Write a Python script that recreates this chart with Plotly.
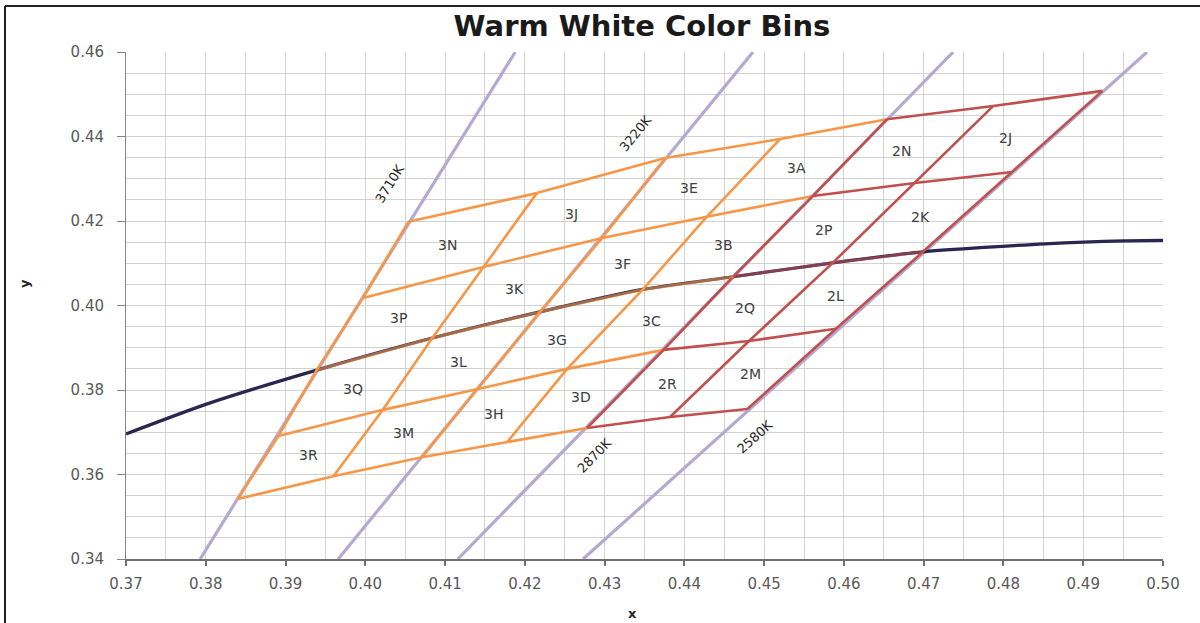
import math
import plotly.graph_objects as go

# Bin corner chromaticities (CIE 1931 x, y), one list per horizontal bin
# boundary (top to bottom); each list runs along the column lines L0..L6.
top_x = [0.4054, 0.4215, 0.4376, 0.4520, 0.4654, 0.4787, 0.4924]
top_y = [0.4198, 0.4266, 0.4349, 0.4394, 0.4441, 0.4472, 0.4508]
upper_x = [0.3997, 0.4148, 0.4297, 0.4428, 0.4561, 0.4689, 0.4811]
upper_y = [0.4018, 0.4091, 0.4160, 0.4210, 0.4259, 0.4290, 0.4316]
mid_x = [0.3939, 0.4084, 0.4219, 0.4348, 0.4461, 0.4586, 0.4699]
mid_y = [0.3847, 0.3923, 0.3985, 0.4038, 0.4068, 0.4101, 0.4127]
lower_x = [0.3891, 0.4022, 0.4140, 0.4253, 0.4374, 0.4481, 0.4590]
lower_y = [0.3691, 0.3753, 0.3802, 0.3850, 0.3895, 0.3916, 0.3945]
bottom_x = [0.3840, 0.3960, 0.4071, 0.4178, 0.4278, 0.4382, 0.4479]
bottom_y = [0.3542, 0.3596, 0.3641, 0.3677, 0.3710, 0.3736, 0.3755]

# Bin codes, rows top to bottom, columns left to right
bin_names = [
    ["3N", "3J", "3E", "3A", "2N", "2J"],
    ["3P", "3K", "3F", "3B", "2P", "2K"],
    ["3Q", "3L", "3G", "3C", "2Q", "2L"],
    ["3R", "3M", "3H", "3D", "2R", "2M"],
]

# Planckian (black body) locus
locus_x = [0.3700, 0.3800, 0.3939, 0.4084, 0.4219, 0.4348, 0.4461, 0.4586, 0.4699, 0.4852, 0.4952, 0.5000]
locus_y = [0.3696, 0.3766, 0.3847, 0.3923, 0.3985, 0.4038, 0.4068, 0.4101, 0.4127, 0.4146, 0.4153, 0.4154]

# Iso-CCT lines: x where each line meets y = 0.34 and y = 0.46
cct_names = ["3710K", "3220K", "2870K", "2580K"]
cct_x_low = [0.3793, 0.3966, 0.4116, 0.4273]
cct_x_high = [0.4188, 0.4486, 0.4737, 0.4980]
cct_y_low = 0.34
cct_y_high = 0.46
cct_label_x = [0.4031, 0.4339, 0.4287, 0.4489]
cct_label_y = [0.4288, 0.4406, 0.3646, 0.3689]

X_RANGE = [0.37, 0.50]
Y_RANGE = [0.34, 0.46]

ORANGE = "#f79646"
RED = "#c0504d"
LAVENDER = "#b4a9d0"
NAVY = "#29264f"
GRID = "#d2d2d2"
AXIS = "#868686"
FONT = "DejaVu Sans"

W, H = 1200, 623
M_L, M_R, M_T, M_B = 126, 37, 52, 64
plot_w = W - M_L - M_R
plot_h = H - M_T - M_B

rows_x = [top_x, upper_x, mid_x, lower_x, bottom_x]
rows_y = [top_y, upper_y, mid_y, lower_y, bottom_y]
n_lines = len(top_x)
n_orange_cols = 4  # columns L0..L3 belong to the 3xxx family

fig = go.Figure()

# Iso-CCT guide lines
for i in range(len(cct_names)):
    fig.add_trace(go.Scatter(
        x=[cct_x_low[i], cct_x_high[i]], y=[cct_y_low, cct_y_high],
        mode="lines", line=dict(color=LAVENDER, width=3.2), hoverinfo="skip"))

# Black body locus
fig.add_trace(go.Scatter(
    x=locus_x, y=locus_y, mode="lines",
    line=dict(color=NAVY, width=3.2, shape="spline", smoothing=0.6),
    hoverinfo="skip"))


def add_segments(xs, ys, color, width, opacity=1.0):
    fig.add_trace(go.Scatter(x=xs, y=ys, mode="lines", opacity=opacity,
                             line=dict(color=color, width=width), hoverinfo="skip",
                             connectgaps=False))


# Bin boundaries: horizontal edges (except the locus row) and column lines
for color, col_range, seg_range in [
    (ORANGE, range(0, n_orange_cols), range(0, n_orange_cols)),
    (RED, range(n_orange_cols, n_lines), range(n_orange_cols, n_lines - 1)),
]:
    xs, ys = [], []
    for r in (0, 1, 3, 4):
        for c in seg_range:
            xs += [rows_x[r][c], rows_x[r][c + 1], None]
            ys += [rows_y[r][c], rows_y[r][c + 1], None]
    for c in col_range:
        xs += [rx[c] for rx in rows_x] + [None]
        ys += [ry[c] for ry in rows_y] + [None]
    add_segments(xs, ys, color, 2.6)

# Bin edges lying on the locus, drawn translucent over it
for color, seg_range in [(ORANGE, range(0, n_orange_cols)), (RED, range(n_orange_cols, n_lines - 1))]:
    xs, ys = [], []
    for c in seg_range:
        xs += [mid_x[c], mid_x[c + 1], None]
        ys += [mid_y[c], mid_y[c + 1], None]
    add_segments(xs, ys, color, 3.0, opacity=0.6)

annotations = []

# Bin code labels at the centre of each quadrangle
for r, names in enumerate(bin_names):
    for c, name in enumerate(names):
        cx = (rows_x[r][c] + rows_x[r][c + 1] + rows_x[r + 1][c] + rows_x[r + 1][c + 1]) / 4
        cy = (rows_y[r][c] + rows_y[r][c + 1] + rows_y[r + 1][c] + rows_y[r + 1][c + 1]) / 4
        annotations.append(dict(x=cx, y=cy, xref="x", yref="y", text=name, showarrow=False,
                                xanchor="center", yanchor="middle",
                                font=dict(family=FONT, size=14, color="#404040")))

# CCT labels, rotated along their lines
px_per_x = plot_w / (X_RANGE[1] - X_RANGE[0])
px_per_y = plot_h / (Y_RANGE[1] - Y_RANGE[0])
for i, name in enumerate(cct_names):
    dx = (cct_x_high[i] - cct_x_low[i]) * px_per_x
    dy = (cct_y_high - cct_y_low) * px_per_y
    ang = -math.degrees(math.atan2(dy, dx))
    annotations.append(dict(x=cct_label_x[i], y=cct_label_y[i], xref="x", yref="y", text=name,
                            showarrow=False, textangle=ang, xanchor="center", yanchor="middle",
                            font=dict(family=FONT, size=13, color="#262626")))

# Axis titles
annotations.append(dict(x=(632 - M_L) / plot_w, y=(H - M_B - 613) / plot_h, xref="paper", yref="paper",
                        text="<b>x</b>", showarrow=False, xanchor="center", yanchor="middle",
                        font=dict(family=FONT, size=13, color="#262626")))
annotations.append(dict(x=(24 - M_L) / plot_w, y=(H - M_B - 284) / plot_h, xref="paper", yref="paper",
                        text="<b>y</b>", showarrow=False, textangle=-90,
                        xanchor="center", yanchor="middle",
                        font=dict(family=FONT, size=13, color="#262626")))

# Frame around the chart (left and top edges)
fx0 = (5 - M_L) / plot_w
fx1 = (W - M_L) / plot_w
fy_top = (H - M_B - 6) / plot_h
fy_bot = (H - M_B - H) / plot_h
shapes = [
    dict(type="line", xref="paper", yref="paper", x0=fx0, x1=fx1, y0=fy_top, y1=fy_top,
         line=dict(color="#222222", width=2)),
    dict(type="line", xref="paper", yref="paper", x0=fx0, x1=fx0, y0=fy_top, y1=fy_bot,
         line=dict(color="#222222", width=2)),
]

fig.update_layout(
    width=W, height=H,
    margin=dict(l=M_L, r=M_R, t=M_T, b=M_B),
    paper_bgcolor="white", plot_bgcolor="white",
    showlegend=False,
    title=dict(text="<b>Warm White Color Bins</b>", x=642 / W, xanchor="center",
               y=1 - 26 / H, yanchor="middle",
               font=dict(family=FONT, size=29, color="#1a1a1a")),
    annotations=annotations,
    shapes=shapes,
)

fig.update_xaxes(
    range=X_RANGE, dtick=0.01, tick0=0.37, tickformat=".2f",
    showgrid=True, gridcolor=GRID, gridwidth=1,
    minor=dict(dtick=0.005, showgrid=True, gridcolor=GRID, gridwidth=1, ticks=""),
    showline=True, linecolor="#6f6f6f", linewidth=1.5,
    ticks="outside", ticklen=5, tickcolor="#6f6f6f", tickwidth=1.5,
    ticklabelstandoff=5,
    tickfont=dict(family=FONT, size=15, color="#595959"),
    zeroline=False,
)
fig.update_yaxes(
    range=Y_RANGE, dtick=0.02, tick0=0.34, tickformat=".2f",
    showgrid=True, gridcolor=GRID, gridwidth=1,
    minor=dict(dtick=0.005, showgrid=True, gridcolor=GRID, gridwidth=1, ticks=""),
    showline=True, linecolor=AXIS, linewidth=1,
    ticks="outside", ticklen=8, tickcolor=AXIS,
    ticklabelstandoff=10,
    tickfont=dict(family=FONT, size=15, color="#595959"),
    zeroline=False,
)

fig.write_html("out.html")
